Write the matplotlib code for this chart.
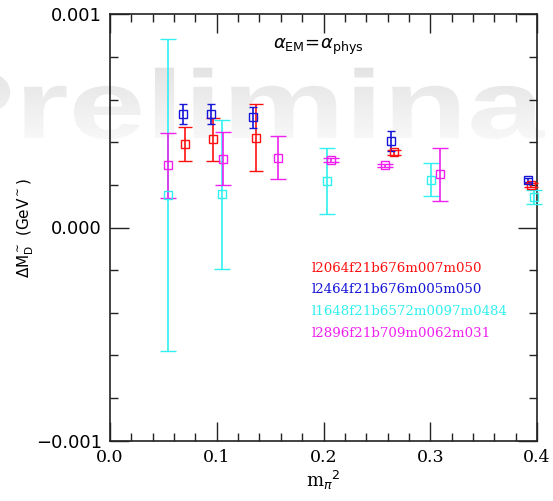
import matplotlib
matplotlib.use("Agg")
import numpy as np
import matplotlib.pyplot as plt
from matplotlib.ticker import MultipleLocator, FixedLocator
from matplotlib.textpath import TextPath
from matplotlib.font_manager import FontProperties
from matplotlib.patches import PathPatch
from matplotlib.transforms import Affine2D

# ---- data ----
red_x = [0.0703, 0.0968, 0.1365, 0.2658, 0.3947]
red_y = [0.000393, 0.000413, 0.000421, 0.000352, 0.000200]
red_e = [0.000079, 0.000100, 0.000158, 0.000010, 0.000010]

blue_x = [0.0687, 0.0946, 0.1342, 0.2630, 0.3919]
blue_y = [0.000532, 0.000532, 0.000516, 0.000405, 0.000222]
blue_e = [0.000047, 0.000047, 0.000049, 0.000046, 0.000008]

cyan_x = [0.0540, 0.1052, 0.2036, 0.3004, 0.3969]
cyan_y = [0.000153, 0.000155, 0.000219, 0.000225, 0.000142]
cyan_e = [0.000730, 0.000350, 0.000154, 0.000078, 0.000032]

mag_x = [0.0546, 0.1061, 0.1571, 0.2073, 0.2579, 0.3089]
mag_y = [0.000291, 0.000322, 0.000327, 0.000316, 0.000291, 0.000250]
mag_e = [0.000153, 0.000125, 0.000100, 0.000010, 0.000008, 0.000125]

labels = ["l2064f21b676m007m050", "l2464f21b676m005m050",
          "l1648f21b6572m0097m0484", "l2896f21b709m0062m031"]
colors = ["#ff1010", "#1515d8", "#30f0f0", "#f020f0"]
capsizes = [5, 3, 5.5, 6]

x_ticks = [0.0, 0.1, 0.2, 0.3, 0.4]
x_ticklabels = ["0.0", "0.1", "0.2", "0.3", "0.4"]
y_ticks = [-0.001, 0.0, 0.001]
y_ticklabels = ["\u22120.001", "0.000", "0.001"]

W, H = 553, 501
fig = plt.figure(figsize=(W / 100, H / 100), dpi=100)

# ---- watermark (stretched bold text with vertical gradient) ----
bg = fig.add_axes([0, 0, 1, 1], zorder=-5)
bg.set_xlim(0, W)
bg.set_ylim(0, H)
bg.axis("off")
prop = FontProperties(family="Liberation Sans", weight="bold")
tp9 = TextPath((0, 0), "Prelimina", size=1, prop=prop)
a_right = tp9.get_extents().x1
tp = TextPath((0, 0), "Preliminary", size=1, prop=prop)
sx, sy = 138.0, 97.0
tx = 545 - sx * a_right
ty = H - 138
patch = PathPatch(tp, facecolor="none", edgecolor="none",
                  transform=Affine2D().scale(sx, sy).translate(tx, ty) + bg.transData)
bg.add_patch(patch)
grad = np.linspace(0.89, 0.97, 64).reshape(-1, 1)
img = bg.imshow(grad, cmap="gray", vmin=0, vmax=1, aspect="auto",
                extent=(0, W, H - 140, H - 66), origin="upper")
img.set_clip_path(patch)

ax = fig.add_axes([110 / W, 1 - 440.7 / H, (537 - 110) / W, (440.7 - 14.3) / H])
ax.patch.set_alpha(0)

series = [(red_x, red_y, red_e), (blue_x, blue_y, blue_e),
          (cyan_x, cyan_y, cyan_e), (mag_x, mag_y, mag_e)]
for (xs, ys, es), c, lab, cs in zip(series, colors, labels, capsizes):
    ax.errorbar(xs, ys, yerr=es, fmt="s", mfc="none", mec=c, ecolor=c,
                color=c, ms=5.5, mew=1.0, elinewidth=1.2, capsize=cs,
                capthick=1.2, clip_on=False, zorder=3)

ax.set_xlim(0.0, 0.4)
ax.set_ylim(-0.001, 0.001)
ax.xaxis.set_major_locator(FixedLocator(x_ticks))
ax.set_xticklabels(x_ticklabels, family="DejaVu Serif", fontsize=12.5)
ax.xaxis.set_minor_locator(MultipleLocator(0.02))
ax.yaxis.set_major_locator(FixedLocator(y_ticks))
ax.set_yticklabels(y_ticklabels, family="DejaVu Sans", fontsize=13)
ax.yaxis.set_minor_locator(MultipleLocator(0.0002))
ax.tick_params(which="both", direction="in", top=True, right=True,
               color="#222222")
ax.tick_params(which="major", length=14, width=1.0, pad=6)
ax.tick_params(which="minor", length=5.5, width=1.0)
for s in ax.spines.values():
    s.set_linewidth(1.2)
    s.set_color("#222222")

ax.set_xlabel(r"m$_{\pi}$$^{2}$", family="DejaVu Serif", fontsize=13,
              labelpad=2)
ax.set_ylabel(r"$\Delta$M$_{\rm D}^{\sim}$ (GeV$^{\sim}$)", family="DejaVu Sans",
              fontsize=11, labelpad=0)

fig.text(318 / W, 1 - 47 / H, r"$\alpha_{\rm EM}\!=\!\alpha_{\rm phys}$",
         fontsize=13, ha="center", va="center")

for i, (lab, c) in enumerate(zip(labels, colors)):
    fig.text(312 / W, 1 - (268 + 21.7 * i) / H, lab, color=c,
             family="DejaVu Serif", fontsize=9.6, ha="left", va="center")

fig.savefig("out.png", dpi=100)
